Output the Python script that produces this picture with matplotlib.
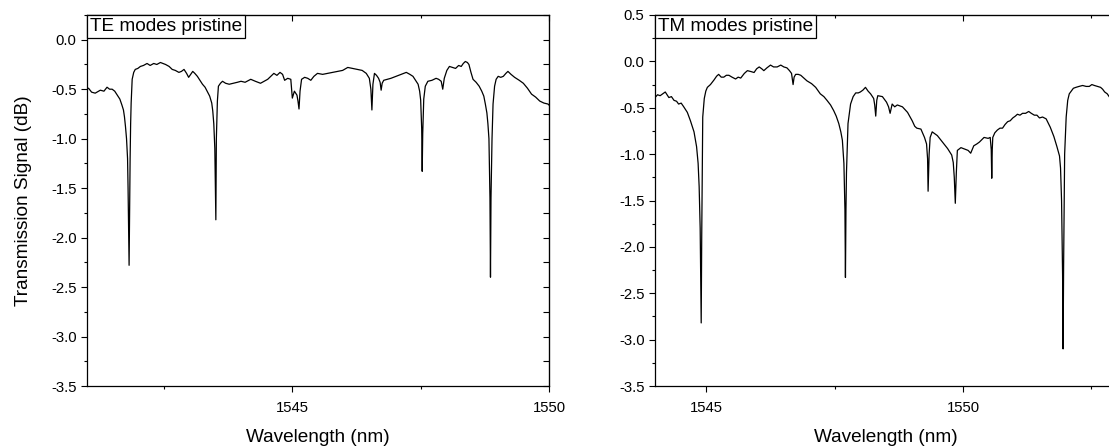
import matplotlib
matplotlib.use("Agg")
import matplotlib.pyplot as plt
from matplotlib.ticker import MultipleLocator, FormatStrFormatter

plt.rcParams["font.family"] = ["Liberation Sans", "DejaVu Sans"]
plt.rcParams["axes.unicode_minus"] = False

# -------------------------
# TE modes (left panel)
# -------------------------
te_wl = [1541.00, 1541.03, 1541.09, 1541.16, 1541.26, 1541.33, 1541.39, 1541.44,
         1541.49, 1541.54, 1541.59, 1541.64, 1541.68, 1541.71, 1541.73, 1541.75,
         1541.77, 1541.79, 1541.80, 1541.81, 1541.82, 1541.83, 1541.84, 1541.85,
         1541.86, 1541.88, 1541.91, 1541.94, 1541.99, 1542.04, 1542.10, 1542.17,
         1542.23, 1542.30, 1542.36, 1542.43, 1542.48, 1542.53, 1542.60, 1542.66,
         1542.72, 1542.79, 1542.84, 1542.89, 1542.94, 1542.98, 1543.02, 1543.06,
         1543.10, 1543.15, 1543.20, 1543.25, 1543.30, 1543.34, 1543.39, 1543.43,
         1543.45, 1543.47, 1543.49, 1543.50, 1543.51, 1543.52, 1543.54, 1543.56,
         1543.60, 1543.64, 1543.70, 1543.77, 1543.85, 1543.93, 1544.00, 1544.08,
         1544.19, 1544.28, 1544.38, 1544.45, 1544.52, 1544.58, 1544.64, 1544.70,
         1544.76, 1544.81, 1544.85, 1544.91, 1544.97, 1545.00, 1545.04, 1545.09,
         1545.11, 1545.13, 1545.15, 1545.18, 1545.24, 1545.30, 1545.36, 1545.42,
         1545.49, 1545.59, 1545.69, 1545.78, 1545.88, 1545.98, 1546.08, 1546.17,
         1546.27, 1546.36, 1546.44, 1546.50, 1546.53, 1546.55, 1546.57, 1546.60,
         1546.64, 1546.68, 1546.71, 1546.73, 1546.75, 1546.78, 1546.85, 1546.92,
         1547.02, 1547.12, 1547.22, 1547.29, 1547.35, 1547.40, 1547.45, 1547.48,
         1547.50, 1547.52, 1547.53, 1547.54, 1547.56, 1547.59, 1547.64, 1547.72,
         1547.80, 1547.85, 1547.90, 1547.93, 1547.96, 1548.01, 1548.06, 1548.12,
         1548.18, 1548.24, 1548.29, 1548.33, 1548.37, 1548.41, 1548.44, 1548.48,
         1548.52, 1548.58, 1548.64, 1548.69, 1548.73, 1548.76, 1548.79, 1548.81,
         1548.83, 1548.85, 1548.86, 1548.87, 1548.89, 1548.91, 1548.94, 1548.97,
         1549.01, 1549.06, 1549.11, 1549.16, 1549.20, 1549.26, 1549.33, 1549.42,
         1549.50, 1549.58, 1549.66, 1549.74, 1549.82, 1549.90, 1549.98, 1550.00]
te_db = [-0.50, -0.49, -0.53, -0.54, -0.51, -0.52, -0.48, -0.50,
         -0.50, -0.52, -0.56, -0.60, -0.66, -0.71, -0.78, -0.88,
         -1.00, -1.20, -1.50, -1.90, -2.28, -1.70, -1.20, -0.85,
         -0.64, -0.40, -0.33, -0.30, -0.29, -0.27, -0.26, -0.24,
         -0.26, -0.24, -0.25, -0.23, -0.24, -0.25, -0.27, -0.30,
         -0.31, -0.33, -0.32, -0.30, -0.34, -0.38, -0.35, -0.32,
         -0.34, -0.37, -0.41, -0.45, -0.48, -0.52, -0.57, -0.64,
         -0.72, -0.85, -1.10, -1.45, -1.82, -1.00, -0.62, -0.47,
         -0.44, -0.42, -0.44, -0.45, -0.44, -0.43, -0.42, -0.43,
         -0.40, -0.42, -0.44, -0.42, -0.40, -0.37, -0.34, -0.36,
         -0.33, -0.35, -0.41, -0.39, -0.40, -0.59, -0.52, -0.56,
         -0.62, -0.70, -0.52, -0.40, -0.38, -0.39, -0.41, -0.37,
         -0.34, -0.35, -0.34, -0.33, -0.32, -0.31, -0.28, -0.29,
         -0.30, -0.31, -0.34, -0.39, -0.50, -0.71, -0.45, -0.34,
         -0.36, -0.39, -0.43, -0.51, -0.44, -0.41, -0.40, -0.39,
         -0.37, -0.35, -0.33, -0.35, -0.37, -0.41, -0.45, -0.52,
         -0.61, -0.90, -1.33, -0.95, -0.60, -0.47, -0.42, -0.41,
         -0.39, -0.40, -0.42, -0.50, -0.39, -0.31, -0.27, -0.28,
         -0.29, -0.26, -0.27, -0.24, -0.22, -0.23, -0.25, -0.33,
         -0.40, -0.43, -0.47, -0.52, -0.57, -0.65, -0.74, -0.85,
         -1.00, -1.60, -2.40, -1.60, -1.00, -0.65, -0.47, -0.40,
         -0.37, -0.38, -0.37, -0.34, -0.32, -0.35, -0.38, -0.41,
         -0.44, -0.49, -0.55, -0.58, -0.62, -0.64, -0.65, -0.66]

# -------------------------
# TM modes (right panel)
# -------------------------
tm_wl = [1544.00, 1544.05, 1544.10, 1544.15, 1544.20, 1544.27, 1544.32, 1544.37,
         1544.42, 1544.46, 1544.51, 1544.56, 1544.63, 1544.69, 1544.76, 1544.81,
         1544.84, 1544.86, 1544.88, 1544.89, 1544.90, 1544.91, 1544.92, 1544.93,
         1544.96, 1544.99, 1545.02, 1545.08, 1545.15, 1545.20, 1545.24, 1545.29,
         1545.34, 1545.39, 1545.44, 1545.50, 1545.57, 1545.62, 1545.67, 1545.74,
         1545.80, 1545.87, 1545.93, 1545.98, 1546.03, 1546.08, 1546.12, 1546.18,
         1546.25, 1546.31, 1546.38, 1546.45, 1546.51, 1546.57, 1546.62, 1546.66,
         1546.69, 1546.71, 1546.74, 1546.79, 1546.84, 1546.90, 1546.96, 1547.05,
         1547.13, 1547.22, 1547.29, 1547.35, 1547.42, 1547.48, 1547.53, 1547.58,
         1547.62, 1547.65, 1547.68, 1547.70, 1547.71, 1547.72, 1547.73, 1547.76,
         1547.81, 1547.86, 1547.91, 1547.96, 1548.00, 1548.05, 1548.10, 1548.15,
         1548.20, 1548.26, 1548.28, 1548.30, 1548.32, 1548.34, 1548.43, 1548.51,
         1548.55, 1548.58, 1548.62, 1548.67, 1548.72, 1548.77, 1548.82, 1548.87,
         1548.92, 1548.97, 1549.01, 1549.06, 1549.10, 1549.18, 1549.25, 1549.29,
         1549.31, 1549.32, 1549.34, 1549.36, 1549.40, 1549.45, 1549.50, 1549.60,
         1549.70, 1549.78, 1549.81, 1549.83, 1549.85, 1549.87, 1549.89, 1549.96,
         1550.05, 1550.10, 1550.15, 1550.21, 1550.27, 1550.32, 1550.41, 1550.49,
         1550.53, 1550.55, 1550.56, 1550.57, 1550.58, 1550.62, 1550.67, 1550.72,
         1550.77, 1550.82, 1550.87, 1550.92, 1550.97, 1551.02, 1551.06, 1551.11,
         1551.16, 1551.22, 1551.28, 1551.33, 1551.39, 1551.44, 1551.49, 1551.55,
         1551.62, 1551.70, 1551.77, 1551.83, 1551.88, 1551.90, 1551.92, 1551.94,
         1551.95, 1551.96, 1551.98, 1552.01, 1552.04, 1552.07, 1552.11, 1552.15,
         1552.20, 1552.26, 1552.33, 1552.40, 1552.46, 1552.51, 1552.56, 1552.62,
         1552.68, 1552.72, 1552.76, 1552.81, 1552.86, 1552.95, 1553.00]
tm_db = [-0.39, -0.36, -0.37, -0.35, -0.33, -0.39, -0.38, -0.42,
         -0.43, -0.46, -0.45, -0.49, -0.55, -0.64, -0.76, -0.92,
         -1.10, -1.35, -1.80, -2.30, -2.82, -1.90, -1.20, -0.60,
         -0.40, -0.32, -0.28, -0.25, -0.20, -0.16, -0.14, -0.17,
         -0.17, -0.15, -0.15, -0.17, -0.19, -0.17, -0.18, -0.13,
         -0.10, -0.11, -0.12, -0.08, -0.06, -0.08, -0.10, -0.07,
         -0.04, -0.06, -0.06, -0.04, -0.06, -0.07, -0.10, -0.13,
         -0.25, -0.17, -0.14, -0.14, -0.15, -0.18, -0.21, -0.24,
         -0.28, -0.35, -0.38, -0.42, -0.47, -0.53, -0.59, -0.67,
         -0.76, -0.85, -1.10, -1.60, -2.33, -1.60, -1.20, -0.67,
         -0.46, -0.38, -0.34, -0.34, -0.33, -0.31, -0.28, -0.32,
         -0.35, -0.40, -0.47, -0.59, -0.42, -0.37, -0.38, -0.44,
         -0.49, -0.56, -0.46, -0.49, -0.47, -0.48, -0.49, -0.52,
         -0.55, -0.60, -0.64, -0.70, -0.72, -0.73, -0.82, -0.89,
         -1.05, -1.40, -1.00, -0.82, -0.76, -0.78, -0.80, -0.87,
         -0.94, -1.01, -1.09, -1.25, -1.53, -1.20, -0.96, -0.93,
         -0.95, -0.96, -0.99, -0.91, -0.89, -0.87, -0.82, -0.83,
         -0.82, -0.95, -1.26, -0.95, -0.82, -0.77, -0.74, -0.72,
         -0.72, -0.68, -0.65, -0.64, -0.61, -0.59, -0.57, -0.58,
         -0.56, -0.56, -0.54, -0.56, -0.58, -0.58, -0.61, -0.60,
         -0.62, -0.71, -0.81, -0.92, -1.02, -1.15, -1.50, -2.30,
         -3.10, -2.20, -1.00, -0.60, -0.42, -0.35, -0.32, -0.29,
         -0.28, -0.27, -0.26, -0.27, -0.27, -0.25, -0.26, -0.27,
         -0.28, -0.30, -0.33, -0.35, -0.39, -0.40, -0.42]

TICK_FS = 10.7
LABEL_FS = 13.7


def style_axes(ax, ylim, xlim, label):
    ax.set_xlim(*xlim)
    ax.set_ylim(*ylim)
    ax.xaxis.set_major_locator(MultipleLocator(5))
    ax.xaxis.set_minor_locator(MultipleLocator(2.5))
    ax.yaxis.set_major_locator(MultipleLocator(0.5))
    ax.yaxis.set_minor_locator(MultipleLocator(0.25))
    ax.yaxis.set_major_formatter(FormatStrFormatter("%.1f"))
    ax.tick_params(which="both", direction="out", labelsize=TICK_FS, width=0.8)
    ax.tick_params(which="major", length=4.5)
    ax.tick_params(which="minor", length=2.5)
    ax.tick_params(axis="x", pad=6.5)
    ax.tick_params(axis="y", pad=3)
    for s in ax.spines.values():
        s.set_linewidth(0.9)

    # top / right ticks point inward
    top = ax.secondary_xaxis("top")
    top.xaxis.set_major_locator(MultipleLocator(5))
    top.xaxis.set_minor_locator(MultipleLocator(2.5))
    top.tick_params(which="both", direction="in", labeltop=False, width=0.8)
    top.tick_params(which="major", length=4.5)
    top.tick_params(which="minor", length=2.5)
    right = ax.secondary_yaxis("right")
    right.yaxis.set_major_locator(MultipleLocator(0.5))
    right.yaxis.set_minor_locator(MultipleLocator(0.25))
    right.tick_params(which="both", direction="in", labelright=False, width=0.8)
    right.tick_params(which="major", length=4.5)
    right.tick_params(which="minor", length=4.5)

    ax.set_xlabel("Wavelength (nm)", fontsize=LABEL_FS, labelpad=10)
    ax.annotate(label, xy=(0, 1), xycoords="axes fraction",
                xytext=(2.2, -2.2), textcoords="offset points",
                ha="left", va="top", fontsize=LABEL_FS,
                bbox=dict(boxstyle="square,pad=0.15", fc="white", ec="black", lw=0.9))


fig = plt.figure(figsize=(11.09, 4.46), dpi=100)
ax1 = fig.add_axes([87 / 1109, 60 / 446, 462 / 1109, 371 / 446])
ax2 = fig.add_axes([655 / 1109, 60 / 446, 462 / 1109, 371 / 446])

ax1.plot(te_wl, te_db, color="black", lw=0.9)
ax2.plot(tm_wl, tm_db, color="black", lw=0.9)

style_axes(ax1, (-3.5, 0.25), (1541, 1550), "TE modes pristine")
style_axes(ax2, (-3.5, 0.5), (1544, 1553), "TM modes pristine")
ax1.set_ylabel("Transmission Signal (dB)", fontsize=LABEL_FS, labelpad=14)

fig.savefig("out.png", dpi=100)
